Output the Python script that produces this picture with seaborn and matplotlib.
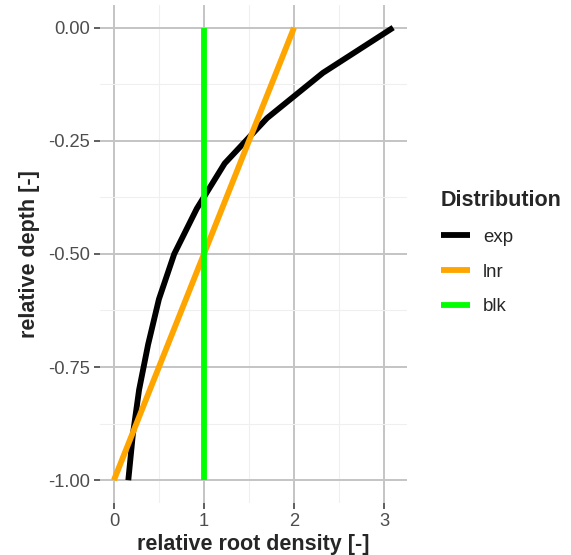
import seaborn as sns
import matplotlib.pyplot as plt
import pandas as pd

# values
depth = [0.0, -0.1, -0.2, -0.3, -0.4, -0.5, -0.6, -0.7, -0.8, -0.9, -1.0]
exp_density = [3.10, 2.32, 1.70, 1.23, 0.92, 0.67, 0.50, 0.38, 0.28, 0.21, 0.16]
lnr_depth = [0.0, -1.0]
lnr_density = [2.0, 0.0]
blk_depth = [0.0, -1.0]
blk_density = [1.0, 1.0]

distributions = ["exp", "lnr", "blk"]
colors = {"exp": "black", "lnr": "orange", "blk": "#00ff00"}

df = pd.concat([
    pd.DataFrame({"density": exp_density, "depth": depth, "Distribution": "exp"}),
    pd.DataFrame({"density": lnr_density, "depth": lnr_depth, "Distribution": "lnr"}),
    pd.DataFrame({"density": blk_density, "depth": blk_depth, "Distribution": "blk"}),
], ignore_index=True)

sns.set_style("white")
plt.rcParams["font.family"] = ["Liberation Sans", "DejaVu Sans"]
plt.rcParams["axes.unicode_minus"] = False

fig = plt.figure(figsize=(5.71, 5.55), dpi=100)
ax = fig.add_axes([0.175, 0.094, 0.538, 0.897])

sns.lineplot(data=df, x="density", y="depth", hue="Distribution",
             hue_order=distributions, palette=colors, sort=False,
             estimator=None, linewidth=4.2, solid_capstyle="butt",
             solid_joinstyle="round", ax=ax, legend=False)

ax.set_xlim(-0.155, 3.255)
ax.set_ylim(-1.05, 0.05)
ax.set_xticks([0, 1, 2, 3])
ax.set_xticklabels(["0", "1", "2", "3"])
ax.set_yticks([0.0, -0.25, -0.5, -0.75, -1.0])
ax.set_yticklabels(["0.00", "-0.25", "-0.50", "-0.75", "-1.00"])
ax.set_xticks([0.5, 1.5, 2.5], minor=True)
ax.set_yticks([-0.125, -0.375, -0.625, -0.875], minor=True)

ax.grid(which="major", color="#c4c4c4", linewidth=1.4)
ax.grid(which="minor", color="#efefef", linewidth=0.8)
ax.set_axisbelow(True)
for s in ax.spines.values():
    s.set_visible(False)

ax.tick_params(axis="both", which="major", length=4, width=1.1, color="#333333",
               labelcolor="#4d4d4d", labelsize=13.2, pad=3, left=True, bottom=True)
ax.tick_params(axis="both", which="minor", length=0)

ax.set_xlabel("relative root density [-]", fontsize=15.5, fontweight="bold", labelpad=3)
ax.set_ylabel("relative depth [-]", fontsize=15.5, fontweight="bold", labelpad=6)

handles = [plt.Line2D([], [], color=colors[d], linewidth=4.2, solid_capstyle="butt")
           for d in distributions]
leg = fig.legend(handles, distributions, title="Distribution",
                 loc="upper left", bbox_to_anchor=(0.756, 0.674),
                 frameon=False, fontsize=13.4, title_fontsize=15.5, borderpad=0,
                 handlelength=1.56, handletextpad=0.7, labelspacing=0.95)
leg.get_title().set_fontweight("bold")
leg._legend_box.align = "left"

fig.savefig("out.png", dpi=100)
